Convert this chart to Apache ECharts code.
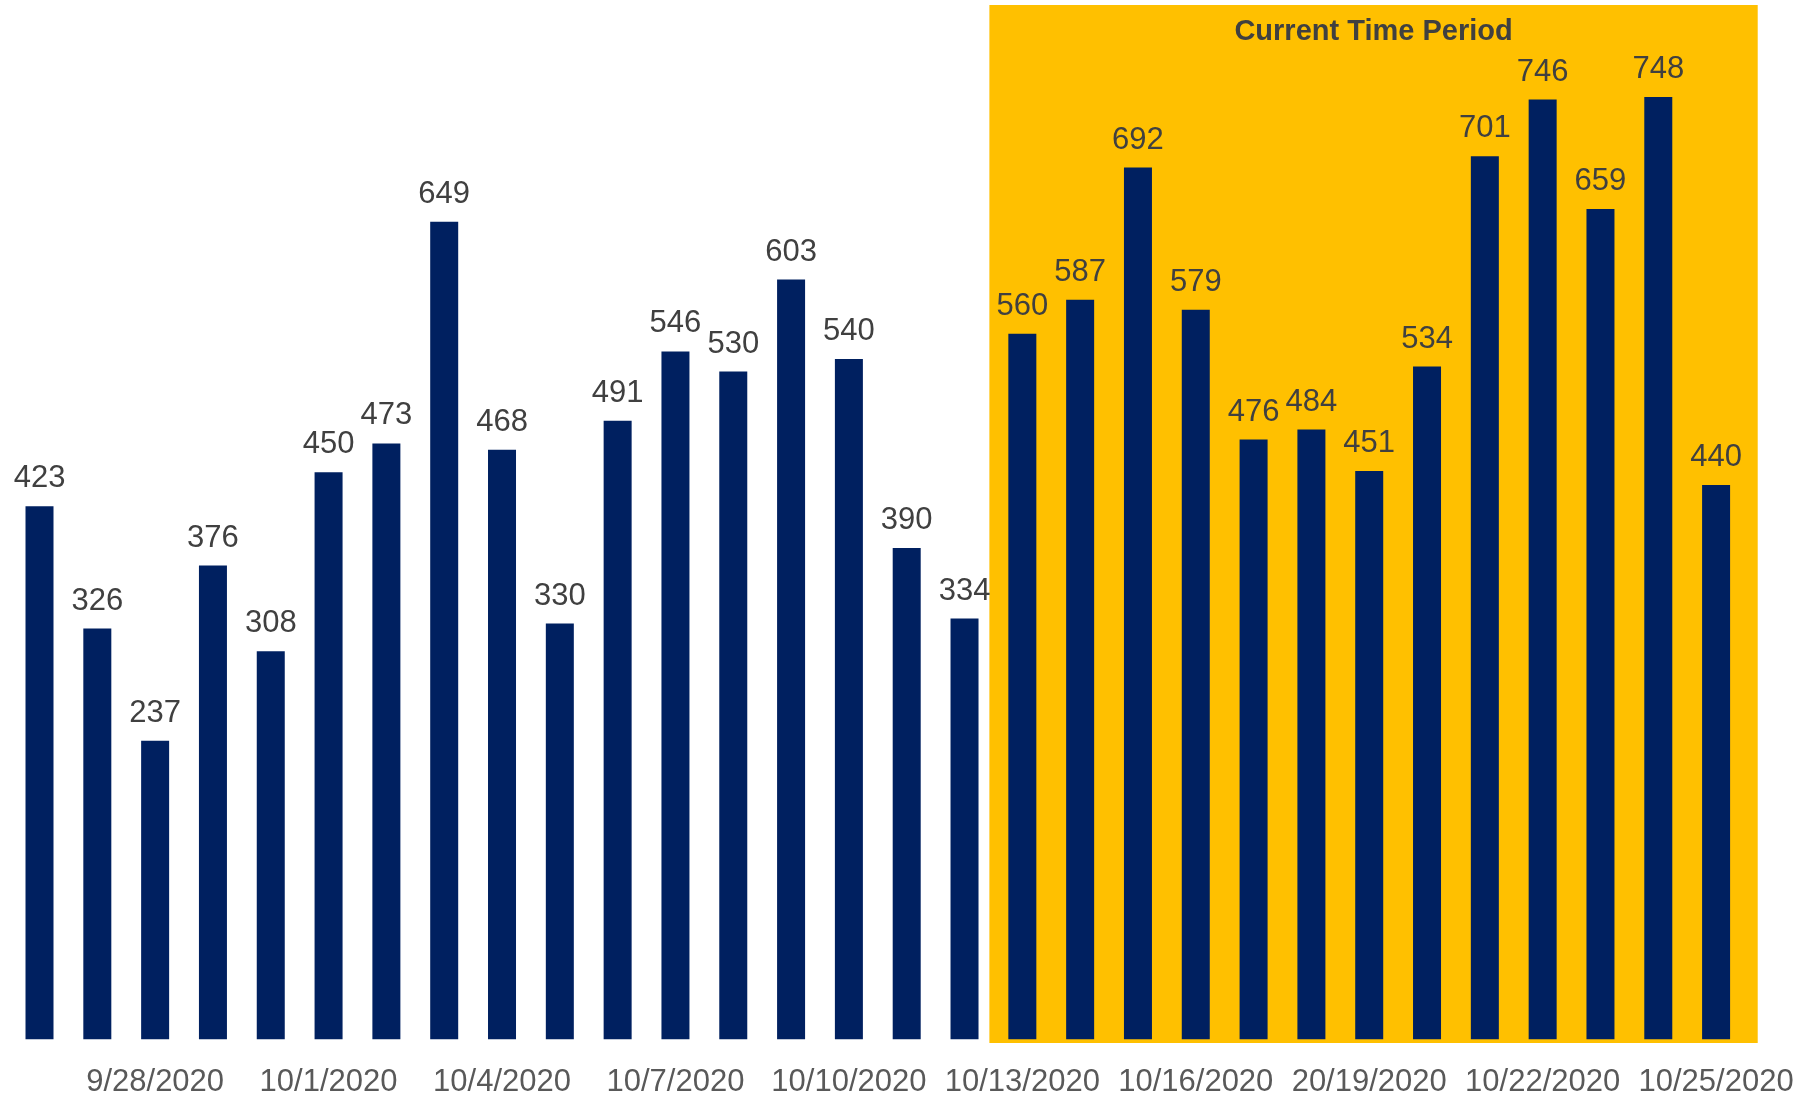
<!DOCTYPE html>
<html>
<head>
<meta charset="utf-8">
<script src="https://cdn.jsdelivr.net/npm/echarts@6/dist/echarts.min.js"></script>
<style>
html,body{margin:0;padding:0;background:#fff;}
#chart{width:1818px;height:1098px;}
</style>
</head>
<body>
<div id="chart"></div>
<script>
const categories = [
  "9/26/2020","9/27/2020","9/28/2020","9/29/2020","9/30/2020","10/1/2020",
  "10/2/2020","10/3/2020","10/4/2020","10/5/2020","10/6/2020","10/7/2020",
  "10/8/2020","10/9/2020","10/10/2020","10/11/2020","10/12/2020","10/13/2020",
  "10/14/2020","10/15/2020","10/16/2020","10/17/2020","10/18/2020","20/19/2020",
  "10/20/2020","10/21/2020","10/22/2020","10/23/2020","10/24/2020","10/25/2020"
];
const values = [
  423,326,237,376,308,450,473,649,468,330,491,546,530,603,540,390,334,
  560,587,692,579,476,484,451,534,701,746,659,748,440
];
const periodLabel = "Current Time Period";
// highlighted band, in category-index units: from just before 10/13/2020 to a little past 10/25/2020
const periodStartIdx = categories.indexOf("10/13/2020") - 0.57;
const periodEndIdx = categories.indexOf("10/25/2020") + 0.72;

// layout
const W = 1818;
const gridLeft = 10.6, gridRight = 73, gridTop = 5, gridBottom = 55;
const boxRight = 60; // the highlight box reaches a little past the plot edge
const band = (W - gridLeft - gridRight) / categories.length;
const overlayMax = -0.5 + (W - gridLeft - boxRight) / band;

const chart = echarts.init(document.getElementById('chart'), null, {renderer:'canvas'});
chart.setOption({
  animation: false,
  backgroundColor: '#ffffff',
  grid: [
    {left: gridLeft, right: gridRight, top: gridTop, bottom: gridBottom},
    {left: gridLeft, right: boxRight, top: gridTop, bottom: gridBottom}
  ],
  xAxis: [
    {
      type: 'category',
      gridIndex: 0,
      data: categories,
      axisLine: {show: false},
      axisTick: {show: false},
      splitLine: {show: false},
      axisLabel: {
        interval: function (idx) { return idx % 3 === 2; },
        color: '#595959',
        fontFamily: 'Liberation Sans, Arial, sans-serif',
        fontSize: 31,
        margin: 24
      }
    },
    {
      type: 'value',
      gridIndex: 1,
      show: false,
      min: -0.5,
      max: overlayMax,
      splitLine: {show: false}
    }
  ],
  yAxis: [
    {type: 'value', gridIndex: 0, show: false, min: -3, max: 821, splitLine: {show: false}},
    {type: 'value', gridIndex: 1, show: false, min: -3, max: 821, splitLine: {show: false}}
  ],
  series: [
    {
      type: 'line',
      xAxisIndex: 1,
      yAxisIndex: 1,
      data: [],
      z: 1,
      silent: true,
      markArea: {
        silent: true,
        itemStyle: {color: '#FFC000'},
        label: {
          show: true,
          position: 'insideTop',
          distance: 12,
          color: '#404040',
          fontWeight: 'bold',
          fontSize: 29,
          fontFamily: 'Liberation Sans, Arial, sans-serif'
        },
        data: [[{name: periodLabel, xAxis: periodStartIdx}, {xAxis: periodEndIdx}]]
      }
    },
    {
      type: 'bar',
      xAxisIndex: 0,
      yAxisIndex: 0,
      data: values,
      z: 3,
      barWidth: 28,
      itemStyle: {color: '#002060'},
      label: {
        show: true,
        position: 'top',
        distance: 12,
        color: '#404040',
        fontSize: 31,
        fontFamily: 'Liberation Sans, Arial, sans-serif'
      }
    }
  ]
});
</script>
</body>
</html>
